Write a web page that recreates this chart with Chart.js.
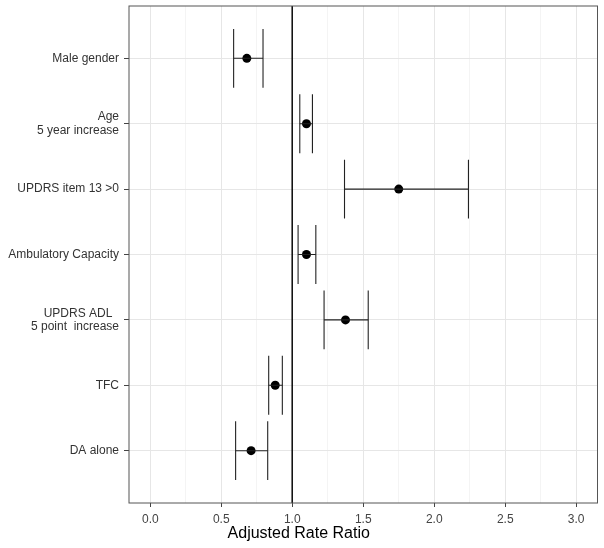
<!DOCTYPE html>
<html>
<head>
<meta charset="utf-8">
<script src="https://cdn.jsdelivr.net/npm/chart.js@4/dist/chart.umd.min.js"></script>
<style>
  html, body { margin: 0; padding: 0; background: #fff; }
  #wrap { width: 604px; height: 548px; }
</style>
</head>
<body>
<div id="wrap"><canvas id="forest"></canvas></div>
<script>
// Data
const categories = [
  "Male gender",
  ["Age", "5 year increase"],
  "UPDRS item 13 >0",
  "Ambulatory Capacity",
  ["UPDRS ADL  ", "5 point  increase"],
  "TFC",
  "DA alone",
];
const estimates = [0.68, 1.10, 1.75, 1.10, 1.375, 0.88, 0.71];
const lower = [0.587, 1.053, 1.368, 1.041, 1.224, 0.834, 0.601];
const upper = [0.794, 1.142, 2.241, 1.166, 1.535, 0.930, 0.827];
const xTicks = [0, 0.25, 0.5, 0.75, 1, 1.25, 1.5, 1.75, 2, 2.25, 2.5, 2.75, 3];
const refValue = 1;
const capHalf = 0.45; // half height of the whisker caps, in category units

const barColor = "#222";
const datasets = [];

// reference line at rate ratio 1
datasets.push({
  data: [{ x: refValue, y: -0.8 }, { x: refValue, y: 6.8 }],
  showLine: true, borderColor: "#111", borderWidth: 1, pointRadius: 0,
});

// error bars: horizontal span plus two caps per row
categories.forEach((c, i) => {
  const segs = [
    [{ x: lower[i], y: i }, { x: upper[i], y: i }],
    [{ x: lower[i], y: i - capHalf }, { x: lower[i], y: i + capHalf }],
    [{ x: upper[i], y: i - capHalf }, { x: upper[i], y: i + capHalf }],
  ];
  segs.forEach(s => datasets.push({
    data: s, showLine: true, borderColor: barColor, borderWidth: 1.1, pointRadius: 0,
  }));
});

// point estimates
datasets.push({
  data: estimates.map((v, i) => ({ x: v, y: i })),
  pointRadius: 4.5, pointBackgroundColor: "#000", pointBorderWidth: 0, showLine: false,
});

const panelBorder = {
  id: "panelBorder",
  afterDraw(chart) {
    const a = chart.chartArea, ctx = chart.ctx;
    ctx.save();
    ctx.strokeStyle = "#555";
    ctx.lineWidth = 1;
    ctx.strokeRect(a.left, a.top, a.right - a.left, a.bottom - a.top);
    ctx.restore();
  }
};

const isMajor = v => Math.abs(v * 2 - Math.round(v * 2)) < 1e-9;

new Chart(document.getElementById("forest"), {
  type: "scatter",
  data: { datasets },
  options: {
    responsive: true,
    maintainAspectRatio: false,
    animation: false,
    layout: { padding: { top: 6, right: 6.5, left: 0, bottom: 0 } },
    plugins: {
      legend: { display: false },
      tooltip: { enabled: false },
      // x axis title, centred on the whole figure like the original
      title: {
        display: true,
        position: "bottom",
        text: "Adjusted Rate Ratio",
        color: "#000",
        padding: { top: 0, bottom: 4.5 },
        font: { family: "Liberation Sans, Arial, sans-serif", size: 16, weight: "normal" },
      },
    },
    scales: {
      x: {
        type: "linear",
        min: -0.15,
        max: 3.15,
        afterBuildTicks: axis => { axis.ticks = xTicks.map(v => ({ value: v })); },
        afterFit: axis => { axis.height = 21.3; axis.paddingLeft = 0; axis.paddingRight = 0; },
        border: { display: false },
        grid: {
          color: ctx => isMajor(ctx.tick.value) ? "#e6e6e6" : "#f4f4f4",
          tickColor: ctx => isMajor(ctx.tick.value) ? "#444" : "rgba(0,0,0,0)",
          tickLength: 4,
          lineWidth: 1,
        },
        ticks: {
          autoSkip: false,
          maxRotation: 0,
          padding: 5.5,
          color: "#444",
          font: { family: "Liberation Sans, Arial, sans-serif", size: 12 },
          callback: v => isMajor(v) ? v.toFixed(1) : "",
        },
      },
      y: {
        type: "linear",
        reverse: true,
        min: -0.8,
        max: 6.8,
        afterBuildTicks: axis => { axis.ticks = categories.map((c, i) => ({ value: i })); },
        afterFit: axis => { axis.width = 129; axis.paddingTop = 0; axis.paddingBottom = 0; },
        border: { display: false },
        grid: {
          color: "#e6e6e6",
          tickColor: "#444",
          tickLength: 5,
          lineWidth: 1,
        },
        ticks: {
          autoSkip: false,
          padding: 5,
          color: "#333",
          font: { family: "Liberation Sans, Arial, sans-serif", size: 12, lineHeight: 1.1 },
          callback: v => categories[v],
        },
      },
    },
  },
  plugins: [panelBorder],
});
</script>
</body>
</html>
